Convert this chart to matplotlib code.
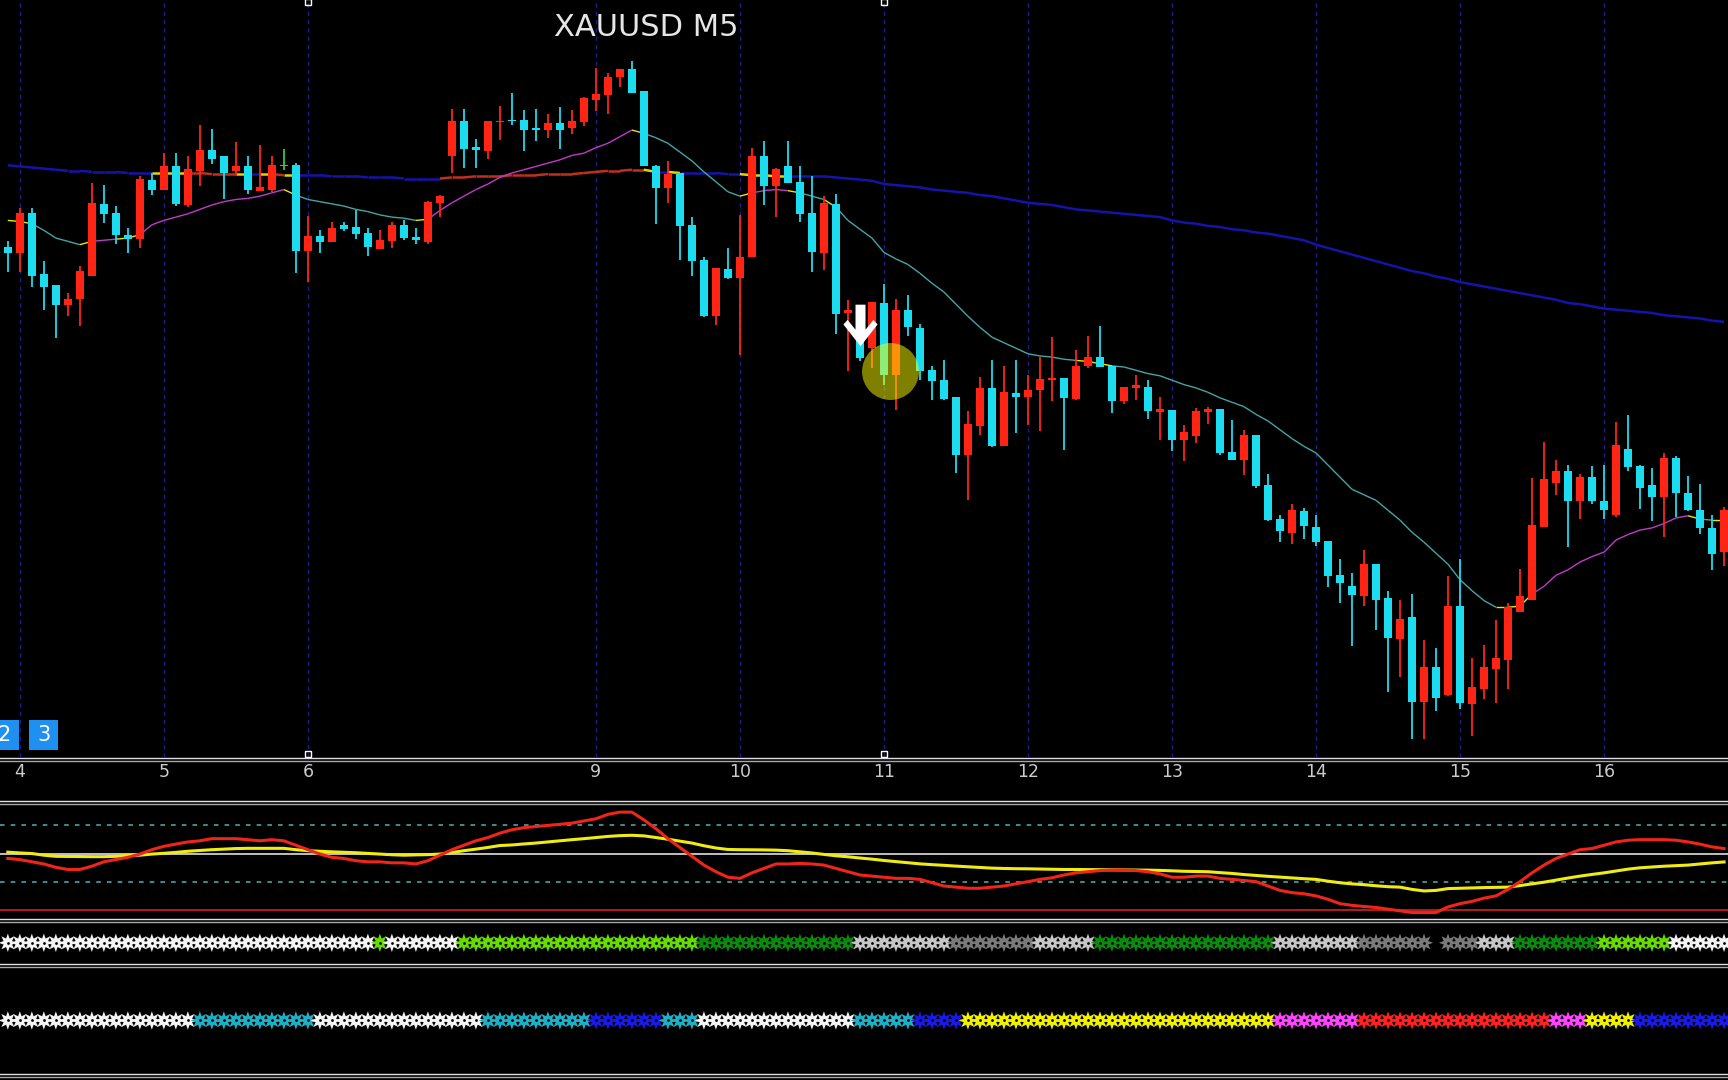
import matplotlib
matplotlib.use('Agg')
import matplotlib.pyplot as plt
import matplotlib.transforms as mtransforms
from matplotlib import font_manager
from matplotlib.collections import LineCollection
from matplotlib.lines import Line2D
from matplotlib.patches import Rectangle
from matplotlib.path import Path
import numpy as np

# first bar on screen is one bar before the "4" hour mark
first_bar = -1

# XAUUSD M5 candles, in chart points (no price scale is shown on the screen)
opens = [476,
         470, 507, 451, 441, 423, 429, 450, 515, 507, 487, 483, 537,
         528, 549, 514, 545, 564, 558, 545, 549, 527, 528, 550, 550,
         472, 486, 480, 496, 494, 489, 474, 481, 496, 485, 480, 516,
         558, 590, 567, 563, 589, 591, 591, 584, 582, 588, 584, 589,
         609, 614, 630, 637, 617, 549, 529, 543, 496, 464, 413, 456,
         448, 467, 558, 531, 549, 535, 507, 470, 515, 416, 392, 384,
         425, 360, 419, 402, 364, 355, 340, 287, 313, 348, 295, 343,
         340, 346, 355, 357, 338, 368, 376, 368, 336, 348, 349, 326,
         328, 301, 304, 326, 329, 290, 283, 305, 260, 229, 216, 236,
         222, 209, 178, 168, 159, 188, 157, 120, 140, 63, 95, 69,
         150, 61, 75, 93, 101, 145, 156, 222, 262, 273, 245, 267,
         245, 233, 293, 277, 260, 249, 284, 253, 237, 221, 199]
highs = [481,
         511, 511, 463, 441, 434, 459, 534, 532, 513, 493, 540, 543,
         561, 561, 558, 587, 583, 558, 571, 558, 568, 558, 565, 552,
         504, 491, 499, 499, 509, 493, 491, 499, 500, 493, 518, 523,
         601, 601, 574, 590, 604, 616, 600, 601, 597, 603, 600, 612,
         638, 634, 637, 645, 617, 550, 554, 543, 503, 467, 457, 475,
         505, 566, 572, 548, 572, 549, 540, 522, 524, 428, 398, 426,
         442, 429, 432, 406, 368, 373, 340, 327, 358, 373, 368, 373,
         360, 376, 394, 357, 382, 395, 404, 368, 349, 360, 355, 340,
         328, 314, 330, 331, 329, 319, 310, 305, 270, 233, 243, 239,
         233, 209, 193, 180, 201, 188, 164, 156, 161, 119, 112, 177,
         193, 103, 115, 137, 153, 184, 266, 299, 283, 278, 270, 277,
         278, 317, 323, 278, 275, 289, 286, 268, 261, 233, 240]
lows = [453,
        453, 440, 419, 393, 413, 404, 450, 498, 479, 470, 475, 523,
        528, 513, 512, 531, 551, 519, 541, 524, 527, 526, 546, 452,
        444, 470, 480, 490, 483, 468, 474, 475, 482, 479, 479, 503,
        543, 548, 548, 556, 573, 587, 563, 572, 575, 565, 578, 586,
        599, 597, 621, 616, 549, 497, 516, 464, 450, 412, 405, 447,
        378, 467, 514, 503, 534, 499, 453, 455, 397, 363, 372, 366,
        351, 328, 395, 355, 337, 337, 271, 246, 305, 294, 295, 307,
        314, 309, 336, 292, 337, 366, 367, 325, 333, 337, 320, 301,
        291, 282, 298, 315, 287, 283, 269, 257, 227, 208, 206, 211,
        205, 167, 153, 114, 150, 128, 72, 86, 29, 29, 55, 68,
        57, 32, 66, 62, 75, 145, 156, 222, 251, 204, 229, 243,
        229, 231, 273, 238, 227, 213, 231, 236, 215, 183, 186]
closes = [470,
          507, 450, 440, 423, 429, 454, 516, 506, 487, 483, 538, 528,
          549, 515, 547, 564, 556, 543, 549, 528, 530, 550, 550, 472,
          486, 480, 493, 492, 488, 476, 482, 496, 484, 482, 517, 522,
          590, 565, 564, 590, 590, 590, 582, 582, 588, 582, 590, 611,
          615, 630, 637, 616, 549, 529, 542, 495, 463, 413, 457, 448,
          467, 558, 531, 547, 534, 506, 471, 516, 415, 419, 375, 426,
          360, 419, 403, 363, 354, 338, 287, 315, 348, 295, 344, 340,
          346, 356, 357, 339, 368, 376, 367, 336, 349, 351, 327, 329,
          301, 308, 327, 329, 289, 283, 305, 259, 228, 218, 237, 223,
          208, 177, 171, 160, 188, 156, 121, 138, 63, 95, 67, 150,
          62, 77, 95, 103, 149, 159, 224, 265, 273, 245, 267, 245,
          237, 296, 276, 257, 249, 284, 253, 237, 221, 197, 237]

# slow (long) and fast moving averages, one value per bar
ma_slow = [550,
           549, 548, 547, 546, 545, 545, 544, 544, 544, 543, 543, 543,
           543, 543, 543, 543, 542, 542, 542, 542, 542, 542, 541, 541,
           541, 541, 540, 540, 540, 539, 539, 539, 538, 538, 538, 538,
           539, 539, 540, 540, 540, 541, 541, 541, 542, 542, 542, 543,
           544, 545, 545, 546, 546, 544, 544, 543, 543, 543, 543, 542,
           542, 541, 541, 540, 540, 540, 540, 540, 539, 538, 537, 536,
           533, 532, 531, 530, 528, 527, 526, 525, 523, 522, 520, 518,
           516, 515, 514, 512, 510, 509, 508, 507, 506, 505, 504, 503,
           500, 498, 497, 495, 494, 492, 491, 489, 488, 486, 484, 482,
           478, 475, 472, 469, 466, 463, 460, 457, 454, 452, 449, 447,
           444, 442, 440, 438, 436, 434, 432, 430, 428, 425, 424, 422,
           420, 419, 418, 417, 416, 414, 413, 412, 411, 409, 408]
ma_fast = [500,
           499, 497, 491, 484, 481, 478, 481, 482, 483, 484, 487, 496,
           500, 503, 506, 510, 514, 517, 519, 520, 522, 525, 528, 523,
           519, 517, 515, 513, 510, 508, 505, 503, 502, 500, 501, 509,
           516, 522, 528, 533, 539, 543, 546, 549, 552, 555, 559, 561,
           566, 570, 576, 582, 579, 575, 570, 562, 554, 544, 535, 526,
           522, 525, 527, 528, 527, 525, 522, 519, 512, 500, 492, 484,
           471, 465, 460, 452, 443, 435, 424, 413, 403, 394, 389, 384,
           379, 377, 376, 374, 373, 372, 370, 368, 367, 364, 361, 359,
           355, 351, 348, 344, 339, 335, 331, 324, 318, 310, 302, 295,
           289, 278, 267, 256, 251, 246, 237, 228, 217, 208, 198, 188,
           174, 164, 155, 149, 149, 150, 161, 168, 178, 183, 190, 195,
           199, 210, 215, 219, 221, 225, 230, 232, 229, 228, 228]

# oscillator window: main (red) and signal (yellow) lines
osc_main = [45.6,
            44.6, 42.6, 40.7, 37.7, 35.8, 35.8, 38.7, 42.6, 44.6, 46.6, 49.5, 53.4,
            56.4, 58.3, 60.3, 61.3, 63.2, 63.2, 63.2, 62.3, 61.3, 62.3, 61.3, 57.4,
            53.4, 49.5, 46.6, 45.6, 43.6, 42.6, 42.6, 41.7, 41.7, 40.7, 43.6, 48.5,
            53.4, 57.4, 61.3, 64.2, 68.1, 71.1, 73.0, 74.0, 75.0, 76.0, 77.0, 78.9,
            80.9, 84.8, 86.8, 86.8, 79.9, 72.1, 63.2, 55.4, 47.5, 39.7, 33.8, 28.9,
            27.9, 32.8, 36.8, 40.7, 40.7, 41.2, 40.7, 39.7, 36.8, 33.8, 30.9, 29.9,
            28.9, 27.9, 27.9, 27.0, 24.0, 21.1, 20.1, 19.1, 19.1, 20.1, 21.1, 23.0,
            25.0, 27.0, 28.4, 30.9, 32.8, 33.8, 34.8, 35.3, 35.3, 34.8, 33.8, 31.9,
            28.9, 28.9, 29.9, 29.9, 27.9, 27.0, 26.0, 25.0, 21.1, 17.2, 15.2, 14.2,
            12.3, 9.3, 5.4, 3.9, 2.9, 2.0, 0.5, -1.0, -2.5, -2.5, -2.5, 2.5,
            5.4, 7.4, 10.3, 12.3, 18.1, 25.0, 32.8, 39.7, 45.6, 49.5, 53.4, 54.4,
            57.4, 60.3, 61.8, 62.3, 62.3, 62.3, 61.8, 60.3, 58.3, 55.9, 54.4]
osc_signal = [51.2,
              50.5, 50.0, 48.5, 47.5, 47.4, 47.3, 47.2, 47.2, 47.5, 48.2, 48.5, 49.5,
              50.2, 51.0, 52.0, 52.7, 53.4, 53.9, 54.4, 54.6, 54.6, 54.6, 54.6, 53.4,
              52.5, 52.0, 51.5, 51.1, 50.7, 50.1, 49.5, 48.9, 48.5, 48.8, 49.0, 49.5,
              50.9, 52.5, 53.9, 55.4, 57.1, 57.6, 58.5, 59.3, 60.3, 61.3, 62.3, 63.2,
              64.2, 65.2, 65.9, 66.2, 65.7, 64.2, 62.7, 61.0, 59.3, 56.9, 54.9, 53.6,
              53.4, 53.3, 53.2, 53.0, 52.5, 51.5, 50.5, 49.2, 48.0, 47.1, 46.0, 45.0,
              43.8, 42.8, 41.8, 40.8, 40.1, 39.5, 38.8, 38.2, 37.6, 37.0, 36.7, 36.5,
              36.4, 36.2, 36.0, 35.8, 35.8, 35.7, 35.6, 35.5, 35.4, 35.3, 35.2, 35.0,
              34.6, 34.2, 34.0, 33.8, 33.0, 32.3, 31.3, 30.5, 29.7, 29.0, 28.3, 27.6,
              27.0, 25.4, 24.0, 23.0, 22.3, 21.3, 20.5, 20.1, 18.1, 16.7, 17.2, 18.8,
              19.1, 19.4, 19.7, 19.9, 20.1, 21.5, 23.0, 24.5, 26.4, 28.2, 29.9, 31.4,
              32.8, 34.5, 36.1, 37.3, 38.0, 38.7, 39.2, 39.7, 40.7, 41.7, 42.5]
osc_bands = [75, 25]
osc_mid = 50
osc_floor = 0

# time axis
hour_bars = [0, 12, 24, 48, 60, 72, 84, 96, 108, 120, 132]
hour_labels = ['4', '5', '6', '9', '10', '11', '12', '13', '14', '15', '16']
separator_bars = [24, 72]

# the two rows of state stars under the oscillator (state, number of bars)
row1_runs = [('white', 31), ('lime', 1), ('white', 6), ('lime', 20), ('dkgreen', 13),
             ('silver', 8), ('gray', 7), ('silver', 5), ('dkgreen', 15), ('silver', 7),
             ('gray', 6), ('none', 1), ('gray', 3), ('silver', 3), ('dkgreen', 7),
             ('lime', 6), ('white', 5)]
row2_runs = [('white', 16), ('teal', 10), ('white', 14), ('teal', 9), ('blue', 6),
             ('teal', 3), ('white', 13), ('teal', 5), ('blue', 4), ('yellow', 26),
             ('magenta', 7), ('red', 16), ('magenta', 3), ('yellow', 4), ('blue', 8)]

# sell arrow and the highlighted entry
sell_bar = 70
sell_level = 405
mark_bar = 72.5
mark_level = 363

# ---------------------------------------------------------------
o = np.array(opens, float)
h = np.array(highs, float)
l = np.array(lows, float)
c = np.array(closes, float)
n = len(o)
idx = np.arange(first_bar, first_bar + n)
for arr in (highs, lows, closes, ma_slow, ma_fast, osc_main, osc_signal):
    assert len(arr) == n

names = {f.name for f in font_manager.fontManager.ttflist}
narrow = 'Liberation Sans Narrow' if 'Liberation Sans Narrow' in names else 'DejaVu Sans'

bull_col = '#ff2414'
bear_col = '#1cdcf0'
doji_col = '#3cc83c'

x_range = (-1.653, 142.33)

fig = plt.figure(figsize=(17.28, 10.8), dpi=100, facecolor='black')


def blank(ax):
    ax.set_facecolor('black')
    for s in ax.spines.values():
        s.set_visible(False)
    ax.set_xlim(*x_range)
    ax.set_yticks([])


def state_colors(ma, cols):
    # colour of a MA segment: body above / below / through the average
    out = []
    for k in range(1, n):
        lo = min(o[k], c[k])
        hi = max(o[k], c[k])
        if lo > ma[k]:
            out.append(cols[0])
        elif hi < ma[k]:
            out.append(cols[1])
        else:
            out.append(cols[2])
    return out


# price window
ax = fig.add_axes([0, 0.29898, 1, 0.70102])
blank(ax)
ax.set_ylim(13, 700)
ax.set_axisbelow(True)
ax.set_xticks(hour_bars)
ax.set_xticklabels(hour_labels, family=narrow)
ax.tick_params(axis='x', length=0, pad=4, labelsize=12.5, labelcolor='#cccccc')
ax.grid(axis='x', color='#1c1c8c', linestyle=(0, (3, 3)), linewidth=1.0)

ma_slow_a = np.array(ma_slow, float)
ma_fast_a = np.array(ma_fast, float)
seg_slow = [[(idx[k], ma_slow_a[k]), (idx[k + 1], ma_slow_a[k + 1])] for k in range(n - 1)]
seg_fast = [[(idx[k], ma_fast_a[k]), (idx[k + 1], ma_fast_a[k + 1])] for k in range(n - 1)]
ax.add_collection(LineCollection(seg_slow, colors=state_colors(ma_slow_a, ['#c0301c', '#1414aa', '#e6d200']),
                                 linewidths=1.8, zorder=2))
ax.add_collection(LineCollection(seg_fast, colors=state_colors(ma_fast_a, ['#c03cc8', '#48a4a4', '#e6e600']),
                                 linewidths=1.0, zorder=2))

body_col = np.where(c > o, bull_col, np.where(c < o, bear_col, doji_col))
bottom = np.minimum(o, c)
height = np.abs(c - o)
bottom = np.where(height < 1.2, (o + c) / 2 - 0.6, bottom)
height = np.maximum(height, 1.2)
ax.vlines(idx, l, h, colors=body_col, linewidth=1.3, zorder=3)
ax.bar(idx, height, bottom=bottom, width=0.62, color=body_col, linewidth=0, zorder=4)

# entry highlight and sell arrow
ax.plot(mark_bar, mark_level, 'o', ms=41, color='#ffff00', alpha=0.5, mec='none', zorder=5)
arrow = Path([(-0.24, 1.0), (0.24, 1.0), (0.24, -0.2), (0.62, 0.27), (0.82, 0.05), (0.0, -1.0),
              (-0.82, 0.05), (-0.62, 0.27), (-0.24, -0.2), (-0.24, 1.0)], closed=True)
ax.plot(sell_bar, sell_level, marker=arrow, ms=30, color='white', mec='white', mew=0, zorder=6)

trans = mtransforms.blended_transform_factory(ax.transData, ax.transAxes)
for yy in (0.004, 0.998):
    ax.plot(separator_bars, [yy] * len(separator_bars), 's', ms=4, mfc='none', mec='white',
            mew=1, transform=trans, clip_on=False, zorder=7)

fig.text(0.3737, 0.9745, 'XAUUSD M5', ha='center', va='center', fontsize=22, color='#e6e6e6')

# "2" "3" buttons at the lower left
for x0, label in ((-0.0060, '2'), (0.01658, '3')):
    fig.add_artist(Rectangle((x0, 0.30510), 0.01722, 0.02857, transform=fig.transFigure,
                             facecolor='#2090f0', edgecolor='none'))
    fig.text(x0 + 0.00861, 0.31939, label, ha='center', va='center', fontsize=15,
             color='white', family=narrow)

# oscillator window
ax2 = fig.add_axes([0, 0.15, 1, 0.105102])
blank(ax2)
ax2.set_xticks([])
ax2.set_ylim(-7.35, 93.6)
for lev in osc_bands:
    ax2.axhline(lev, color='#50b4b4', linestyle=(0, (3, 4)), linewidth=1.1)
ax2.axhline(osc_mid, color='#e0e0e0', linewidth=1.2)
ax2.axhline(osc_floor, color='#c81c1c', linewidth=1.3)
ax2.plot(idx, osc_signal, color='#f0ec10', linewidth=2.2)
ax2.plot(idx, osc_main, color='#f02418', linewidth=2.2)

# star rows
palette = {'white': '#f4f4f4', 'lime': '#66dd00', 'dkgreen': '#0b8a0b', 'silver': '#c6c6c6',
           'gray': '#7a7a7a', 'teal': '#1fb0c6', 'blue': '#1a1ae6', 'yellow': '#f2f200',
           'magenta': '#ff44ff', 'red': '#ff2222', 'none': None}

row_boxes = [([0, 0.108163, 1, 0.037755], row1_runs), ([0, 0.006122, 1, 0.097959], row2_runs)]
for box, runs in row_boxes:
    axr = fig.add_axes(box)
    blank(axr)
    axr.set_xticks([])
    axr.set_ylim(0, 1)
    states = []
    for name, count in runs:
        states += [name] * count
    xs = [x for x, s in zip(idx, states) if palette[s] is not None]
    cs = [palette[s] for s in states if palette[s] is not None]
    axr.scatter(xs, [0.5] * len(xs), marker=(8, 1, 0), s=175, c=cs, linewidths=0, zorder=3)
    axr.scatter(xs, [0.5] * len(xs), marker='o', s=4, c='black', linewidths=0, zorder=4)

# double border lines between the windows
for y_top, y_bot in ((0.29847, 0.29541), (0.25867, 0.25561), (0.14949, 0.14643),
                     (0.10765, 0.10459), (0.00561, 0.00255)):
    fig.add_artist(Line2D([0, 1], [y_top, y_top], transform=fig.transFigure, color='#e0e0e0', lw=1.0))
    fig.add_artist(Line2D([0, 1], [y_bot, y_bot], transform=fig.transFigure, color='#a8a8a8', lw=1.0))

fig.savefig('out.png', dpi=100, facecolor='black')
